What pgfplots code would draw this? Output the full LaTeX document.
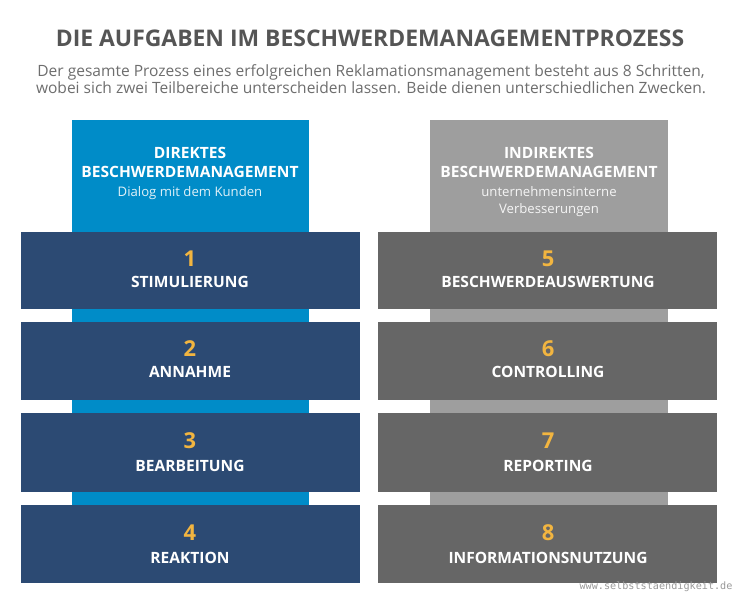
\documentclass[border=0pt]{standalone}
\usepackage{fontspec}
\setmainfont{Open Sans}
\setmonofont{DejaVu Sans Mono}
\usepackage{xcolor}
\usepackage{pgfplots}
\pgfplotsset{compat=1.18}

\definecolor{darkblue}{HTML}{2C4A73}
\definecolor{lightblue}{HTML}{008CC8}
\definecolor{darkgray}{HTML}{666666}
\definecolor{lightgray}{HTML}{9E9E9E}
\definecolor{numyellow}{HTML}{F2B540}
\definecolor{titlegray}{HTML}{555555}
\definecolor{subgray}{HTML}{6E6E6E}

\tikzset{
  numlabel/.style={text=numyellow, font=\fontsize{22}{24}\selectfont\bfseries},
  steplabel/.style={text=white, font=\fontsize{15.6}{18}\selectfont\bfseries},
}

\begin{document}
\begin{tikzpicture}
\begin{axis}[
  scale only axis,
  width=741bp, height=600bp,
  xmin=0, xmax=741, ymin=0, ymax=600,
  y dir=reverse,
  hide axis,
  clip=false,
]
  % background
  \addplot[fill=white, draw=none] coordinates {(0,0) (741,0) (741,600) (0,600)} -- cycle;

  % columns behind the steps
  \addplot[fill=lightblue, draw=none] coordinates {(72,120) (309,120) (309,505) (72,505)} -- cycle;
  \addplot[fill=lightgray, draw=none] coordinates {(430,120) (668,120) (668,505) (430,505)} -- cycle;

  % steps 1-4 (left)
  \addplot[fill=darkblue, draw=none] coordinates {(21,232) (360,232) (360,309) (21,309)} -- cycle;
  \addplot[fill=darkblue, draw=none] coordinates {(21,322) (360,322) (360,400) (21,400)} -- cycle;
  \addplot[fill=darkblue, draw=none] coordinates {(21,413) (360,413) (360,492) (21,492)} -- cycle;
  \addplot[fill=darkblue, draw=none] coordinates {(21,505) (360,505) (360,583) (21,583)} -- cycle;

  % steps 5-8 (right)
  \addplot[fill=darkgray, draw=none] coordinates {(378,232) (717,232) (717,309) (378,309)} -- cycle;
  \addplot[fill=darkgray, draw=none] coordinates {(378,322) (717,322) (717,400) (378,400)} -- cycle;
  \addplot[fill=darkgray, draw=none] coordinates {(378,413) (717,413) (717,492) (378,492)} -- cycle;
  \addplot[fill=darkgray, draw=none] coordinates {(378,505) (717,505) (717,583) (378,583)} -- cycle;

  % title and subtitle
  \node[text=titlegray, font=\fontsize{23}{26}\selectfont\bfseries] at (axis cs:370,38) {DIE AUFGABEN IM BESCHWERDEMANAGEMENTPROZESS};
  \node[text=subgray, font=\fontsize{15.6}{17.5}\selectfont, align=center] at (axis cs:371,79)
    {Der gesamte Prozess eines erfolgreichen Reklamationsmanagement besteht aus 8 Schritten,\\
     wobei sich zwei Teilbereiche unterscheiden lassen. Beide dienen unterschiedlichen Zwecken.};

  % column headers
  \node[text=white, font=\fontsize{15.6}{19}\selectfont\bfseries, align=center] at (axis cs:190,162) {DIREKTES\\BESCHWERDEMANAGEMENT};
  \node[text=white!88!lightblue, font=\fontsize{13.2}{17}\selectfont] at (axis cs:190,193) {Dialog mit dem Kunden};
  \node[text=white, font=\fontsize{15.6}{19}\selectfont\bfseries, align=center] at (axis cs:549,162) {INDIREKTES\\BESCHWERDEMANAGEMENT};
  \node[text=white!90!lightgray, font=\fontsize{13.2}{17}\selectfont, align=center] at (axis cs:549,202) {unternehmensinterne\\Verbesserungen};

  % step numbers and names
  \node[numlabel] at (axis cs:190,259) {1};
  \node[steplabel] at (axis cs:190,282) {STIMULIERUNG};
  \node[numlabel] at (axis cs:190,349) {2};
  \node[steplabel] at (axis cs:190,372) {ANNAHME};
  \node[numlabel] at (axis cs:190,441) {3};
  \node[steplabel] at (axis cs:190,466) {BEARBEITUNG};
  \node[numlabel] at (axis cs:190,533) {4};
  \node[steplabel] at (axis cs:190,558) {REAKTION};

  \node[numlabel] at (axis cs:548,259) {5};
  \node[steplabel] at (axis cs:548,282) {BESCHWERDEAUSWERTUNG};
  \node[numlabel] at (axis cs:548,349) {6};
  \node[steplabel] at (axis cs:548,372) {CONTROLLING};
  \node[numlabel] at (axis cs:548,441) {7};
  \node[steplabel] at (axis cs:548,466) {REPORTING};
  \node[numlabel] at (axis cs:548,533) {8};
  \node[steplabel] at (axis cs:548,558) {INFORMATIONSNUTZUNG};

  % watermark
  \node[text=black!40, font=\fontsize{10.2}{12}\ttfamily, anchor=east] at (axis cs:736,587) {www.selbststaendigkeit.de};
\end{axis}
\end{tikzpicture}
\end{document}
